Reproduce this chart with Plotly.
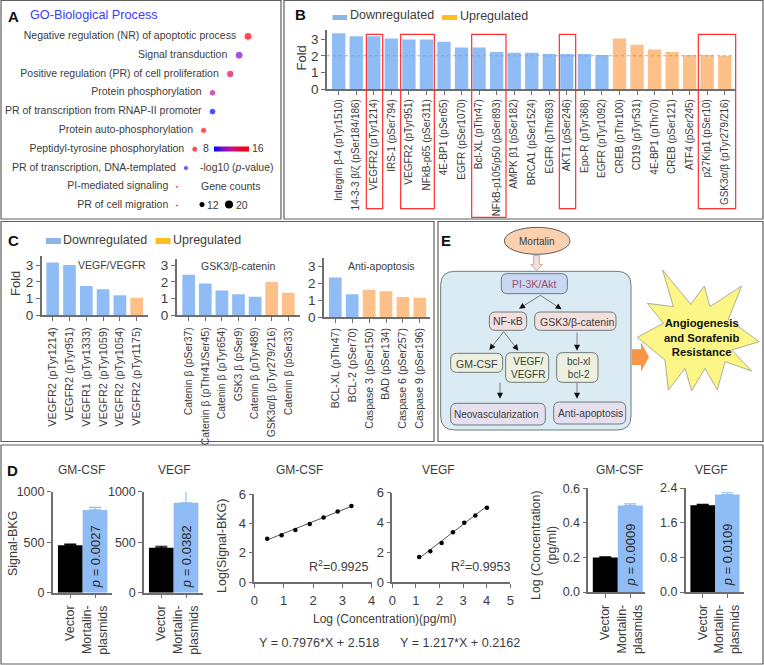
import math
import plotly.graph_objects as go

W, H = 764, 665
FONT = "Liberation Sans"
TXT = "#3c3c3c"
AXC = "#6e6e6e"
BLUE = "#8fbcf5"
ORANGE = "#fdc088"
LEG_BLUE = "#8cb4e6"
LEG_ORANGE = "#fdbd1e"

# ---------- data ----------
go_terms = ["Negative regulation (NR) of apoptotic process", "Signal transduction",
            "Positive regulation (PR) of cell proliferation", "Protein phosphorylation",
            "PR of transcription from RNAP-II promoter", "Protein auto-phosphorylation",
            "Peptidyl-tyrosine phosphorylation", "PR of transcription, DNA-templated",
            "PI-mediated signaling", "PR of cell migration"]
go_counts = [19, 18, 17, 15, 15, 14, 13, 12, 11, 11]
go_logp = [15.5, 10.0, 13.2, 12.0, 8.0, 16.0, 15.0, 9.0, 13.2, 12.0]
go_size = [8, 8, 7.5, 6.5, 6.5, 6, 6, 5, 3, 3]

b_labels = ["Integrin β-4 (pTyr1510)", "14-3-3 β/ζ (pSer184/186)", "VEGFR2 (pTyr1214)", "IRS-1 (pSer794)",
            "VEGFR2 (pTyr951)", "NFkB-p65 (pSer311)", "4E-BP1 (pSer65)", "EGFR (pSer1070)",
            "Bcl-XL (pThr47)", "NFkB-p105/p50 (pSer893)", "AMPK β1 (pSer182)", "BRCA1 (pSer1524)",
            "EGFR (pThr693)", "AKT1 (pSer246)", "Epo-R (pTyr368)", "EGFR (pTyr1092)",
            "CREB (pThr100)", "CD19 (pTyr531)", "4E-BP1 (pThr70)", "CREB (pSer121)",
            "ATF4 (pSer245)", "p27Kip1 (pSer10)", "GSK3α/β (pTyr279/216)"]
b_values = [3.35, 3.17, 3.17, 3.03, 2.97, 2.97, 2.83, 2.5, 2.5, 2.23, 2.18, 2.18,
            2.1, 2.1, 2.1, 2.05, 3.03, 2.65, 2.37, 2.23, 2.05, 2.05, 2.0]
b_up_from = 16

c1_labels = ["VEGFR2 (pTyr1214)", "VEGFR2 (pTyr951)", "VEGFR1 (pTyr1333)", "VEGFR2 (pTyr1059)",
             "VEGFR2 (pTyr1054)", "VEGFR2 (pTyr1175)"]
c1_values = [3.15, 3.0, 1.75, 1.55, 1.2, 1.05]
c1_up = [5]
c2_labels = ["Catenin β (pSer37)", "Catenin β (pThr41/Ser45)", "Catenin β (pTyr654)", "GSK3 β (pSer9)",
             "Catenin β (pTyr489)", "GSK3α/β (pTyr279/216)", "Catenin β (pSer33)"]
c2_values = [2.42, 1.9, 1.48, 1.25, 1.1, 2.0, 1.35]
c2_up = [5, 6]
c3_labels = ["BCL-XL (pThr47)", "BCL-2 (pSer70)", "Caspase 3 (pSer150)", "BAD (pSer134)",
             "Caspase 6 (pSer257)", "Caspase 9 (pSer196)"]
c3_values = [2.35, 1.35, 1.63, 1.53, 1.2, 1.15]
c3_up = [2, 3, 4, 5]

d_groups = ["Vector", "Mortalin-<br>plasmids"]
d1_values, d1_err = [470, 820], [10, 25]
d2_values, d2_err = [445, 890], [15, 135]
d5_values, d5_err = [0.2, 0.5], [0.004, 0.01]
d6_values, d6_err = [2.0, 2.25], [0.02, 0.04]

d3_x = [0.44, 0.93, 1.40, 1.89, 2.36, 2.84, 3.31]
d3_y = [2.95, 3.18, 3.55, 3.95, 4.39, 4.80, 5.18]
d3_fit_x, d3_fit_y = [0.44, 3.31], [2.87, 5.16]
d4_x = [1.14, 1.61, 2.09, 2.57, 3.05, 3.52, 4.01]
d4_y = [1.68, 2.06, 2.62, 3.35, 3.98, 4.47, 4.99]
d4_fit_x, d4_fit_y = [1.14, 4.01], [1.60, 5.10]

# ---------- pixel helpers ----------
def px(x): return x / W
def py(y): return 1 - y / H

fig = go.Figure()
layout = {}
annotations, shapes = [], []
axis_n = [0]

def text(x, y, s, size=11, color=TXT, angle=0, anchor="center", bold=False, family=FONT):
    if bold:
        s = f"<b>{s}</b>"
    annotations.append(dict(x=px(x), y=py(y), xref="paper", yref="paper", text=s, showarrow=False,
                            xanchor=anchor, yanchor="middle", textangle=angle,
                            font=dict(size=size, color=color, family=family), align="center",
                            borderpad=0, borderwidth=0))

def rect(x0, y0, x1, y1, fill="rgba(0,0,0,0)", line="#6e6e6e", lw=1):
    shapes.append(dict(type="rect", xref="paper", yref="paper", x0=px(x0), x1=px(x1), y0=py(y0), y1=py(y1),
                       fillcolor=fill, line=dict(color=line, width=lw), layer="above"))

def rrect(x0, y0, x1, y1, r, fill, line="#707a80", lw=1):
    p = (f"M{px(x0+r)},{py(y0)} L{px(x1-r)},{py(y0)} Q{px(x1)},{py(y0)} {px(x1)},{py(y0+r)} "
         f"L{px(x1)},{py(y1-r)} Q{px(x1)},{py(y1)} {px(x1-r)},{py(y1)} L{px(x0+r)},{py(y1)} "
         f"Q{px(x0)},{py(y1)} {px(x0)},{py(y1-r)} L{px(x0)},{py(y0+r)} Q{px(x0)},{py(y0)} {px(x0+r)},{py(y0)} Z")
    shapes.append(dict(type="path", xref="paper", yref="paper", path=p, fillcolor=fill,
                       line=dict(color=line, width=lw), layer="below"))

def poly(pts, fill, line=None, lw=1):
    p = "M" + " L".join(f"{px(a)},{py(b)}" for a, b in pts) + " Z"
    shapes.append(dict(type="path", xref="paper", yref="paper", path=p, fillcolor=fill,
                       line=dict(color=line or fill, width=lw if line else 0), layer="below"))

def seg(x0, y0, x1, y1, color="#808080", lw=1):
    shapes.append(dict(type="line", xref="paper", yref="paper", x0=px(x0), x1=px(x1), y0=py(y0), y1=py(y1),
                       line=dict(color=color, width=lw), layer="below"))

def axes(x0, x1, y0, y1, xr, yr, xkw=None, ykw=None):
    """x0,x1 left/right pixel; y0,y1 top/bottom pixel."""
    axis_n[0] += 1
    n = axis_n[0]
    base = dict(showgrid=False, zeroline=False, showline=True, linecolor=AXC, linewidth=1.5,
                ticks="outside", tickcolor=AXC, ticklen=4, tickwidth=1.2,
                tickfont=dict(family=FONT, size=13, color=TXT))
    xa = dict(base, domain=[px(x0), px(x1)], range=xr, anchor=f"y{n}")
    ya = dict(base, domain=[py(y1), py(y0)], range=yr, anchor=f"x{n}")
    xa.update(xkw or {})
    ya.update(ykw or {})
    layout[f"xaxis{n}"] = xa
    layout[f"yaxis{n}"] = ya
    return f"x{n}", f"y{n}"

def fold_chart(ax_x, right, top_px, zero_px, three_px, first_c, spacing, barw, labels, values, up,
               lab_size, standoff=0, tick_size=13.5):
    unit = (zero_px - three_px) / 3
    xr = [(ax_x - first_c) / spacing, (right - first_c) / spacing]
    yr = [0, (zero_px - top_px) / unit]
    xa, ya = axes(ax_x, right, top_px, zero_px, xr, yr,
                  xkw=dict(tickmode="array", tickvals=list(range(len(labels))), ticktext=labels,
                           tickangle=-90, ticklabelstandoff=standoff,
                           tickfont=dict(family=FONT, size=lab_size, color=TXT)),
                  ykw=dict(tickmode="array", tickvals=[0, 1, 2, 3], tickfont=dict(family=FONT, size=tick_size, color=TXT)))
    colors = [ORANGE if i in up else BLUE for i in range(len(values))]
    fig.add_trace(go.Bar(x=list(range(len(values))), y=values, xaxis=xa, yaxis=ya, marker=dict(color=colors, line=dict(width=0)),
                         width=barw / spacing, showlegend=False))
    return xa, ya

def two_bar(ax_x, right, zero_px, top_px, c0, c1, values, errs, ymax, ticks, ticktext, ptext, tick_size=12.5):
    spacing = c1 - c0
    xr = [(ax_x - c0) / spacing, (right - c0) / spacing]
    xa, ya = axes(ax_x, right, top_px, zero_px, xr, [0, ymax],
                  xkw=dict(tickmode="array", tickvals=[0, 1], ticktext=d_groups, tickangle=-90, ticklabelstandoff=2,
                           tickfont=dict(family=FONT, size=12.5, color=TXT)),
                  ykw=dict(tickmode="array", tickvals=ticks, ticktext=ticktext,
                           tickfont=dict(family=FONT, size=tick_size, color=TXT)))
    fig.add_trace(go.Bar(x=[0, 1], y=values, xaxis=xa, yaxis=ya, width=[1, 1],
                         marker=dict(color=["#000000", BLUE], line=dict(width=0)), showlegend=False))
    for i, col in enumerate(["#000000", BLUE]):
        fig.add_trace(go.Scatter(x=[i], y=[values[i]], xaxis=xa, yaxis=ya, mode="markers", showlegend=False,
                                 marker=dict(size=1, color=col),
                                 error_y=dict(type="data", array=[errs[i]], symmetric=False, visible=True,
                                              color=col, thickness=1.2, width=6)))
    text(c1, (zero_px + top_px) / 2 + 15, f"<i>p</i> = {ptext}", size=13, angle=-90, color="#2a2a2a")

# ---------- frames ----------
for box in [(1, 0.5, 281, 219), (284, 0.5, 763, 219), (1, 221.5, 434, 441.5), (438, 221.5, 763, 441.5), (1, 445, 763, 664)]:
    rect(*box, line="#5f5f5f", lw=1.2)

# ---------- Panel A ----------
A_SCALE = 8.875
a_x0, a_x1 = 3, 280
xa, ya = axes(a_x0, a_x1, 27, 215,
              [11 + (a_x0 - 177) / A_SCALE, 11 + (a_x1 - 177) / A_SCALE],
              [len(go_terms) - 0.5, -0.5],
              xkw=dict(visible=False), ykw=dict(visible=False))
fig.add_trace(go.Scatter(
    x=go_counts, y=list(range(len(go_terms))), xaxis=xa, yaxis=ya, mode="markers+text",
    text=[t + "  " for t in go_terms], textposition="middle left", cliponaxis=False,
    textfont=dict(family=FONT, size=10.5, color=TXT), showlegend=False,
    marker=dict(size=go_size, color=go_logp, cmin=8, cmax=16,
                colorscale=[[0, "#0000ff"], [0.25, "#7a10d0"], [0.5, "#c0108f"], [0.75, "#f00030"], [1, "#ff0000"]],
                showscale=True,
                colorbar=dict(orientation="h", x=px(231.5), xanchor="center", y=py(149), yanchor="middle",
                              len=35 / W, lenmode="fraction", thickness=5, thicknessmode="pixels",
                              showticklabels=False, ticks="", outlinewidth=0, borderwidth=0, xpad=0, ypad=0))))
text(8, 16, "A", size=15, color="#111", anchor="left", bold=True)
text(30, 15.5, "GO-Biological Process", size=12.7, color="#3a3aff", anchor="left")
text(209, 148, "8", size=10.5, anchor="right")
text(252, 148, "16", size=10.5, anchor="left")
text(237, 167, "-log10 (<i>p</i>-value)", size=10.5)
text(231, 186, "Gene counts", size=10.5)
text(213, 204.5, "12", size=10.5, anchor="center")
text(242, 204.5, "20", size=10.5, anchor="center")
shapes.append(dict(type="circle", xref="paper", yref="paper", x0=px(199.5), x1=px(204.5), y0=py(207), y1=py(202),
                   fillcolor="#000", line=dict(width=0)))
shapes.append(dict(type="circle", xref="paper", yref="paper", x0=px(225), x1=px(233), y0=py(208.5), y1=py(200.5),
                   fillcolor="#000", line=dict(width=0)))

# ---------- Panel B ----------
xa, ya = fold_chart(327, 735.7, 30, 89.3, 39, 338.7, 17.55, 13.3, b_labels, b_values, range(b_up_from, 23), 10)
shapes.append(dict(type="line", xref=xa, yref=ya, x0=-0.667, x1=22.6, y0=2, y1=2,
                   line=dict(color="#9a9a9a", width=0.8, dash="dot"), layer="above"))
text(295, 15, "B", size=15, color="#111", anchor="left", bold=True)
text(301, 58.5, "Fold", size=13, angle=-90)
rect(332.5, 15, 347, 20, fill=LEG_BLUE, line=LEG_BLUE, lw=0)
text(350, 15, "Downregulated", size=12.5, anchor="left")
rect(442, 15, 457, 20, fill=LEG_ORANGE, line=LEG_ORANGE, lw=0)
text(460, 16, "Upregulated", size=12.5, anchor="left")
for a, b, c in [(244, 293, 626), (347, 448, 626), (560, 663, 652), (823, 872, 626), (1240, 1352, 626)]:
    rect(285 + a / 3, 103 / 3, 285 + b / 3, c / 3, line="#ff3030", lw=1.2)

# ---------- Panel C ----------
Y = 220
fold_chart(41.7, 148, Y + 36, Y + 95.3, Y + 45, 52.7, 16.8, 12.7, c1_labels, c1_values, c1_up, 10.9, 2)
fold_chart(176.7, 300, Y + 39, Y + 95.3, Y + 45, 188.7, 16.6, 12.7, c2_labels, c2_values, c2_up, 10.4, 2)
fold_chart(324, 430, Y + 37.7, Y + 97, Y + 46.7, 335.3, 16.9, 12.7, c3_labels, c3_values, c3_up, 10.6, 1)
text(8, Y + 20.5, "C", size=15, color="#111", anchor="left", bold=True)
text(15.5, Y + 63.5, "Fold", size=13, angle=-90)
rect(46, Y + 18, 61, Y + 24, fill=LEG_BLUE, line=LEG_BLUE, lw=0)
text(63, Y + 20, "Downregulated", size=12.5, anchor="left")
rect(155.5, Y + 18, 170.5, Y + 24, fill=LEG_ORANGE, line=LEG_ORANGE, lw=0)
text(173, Y + 20, "Upregulated", size=12.5, anchor="left")
text(112, Y + 45, "VEGF/VEGFR", size=10.5)
text(238, Y + 46, "GSK3/β-catenin", size=10.5)
text(381, Y + 46, "Anti-apoptosis", size=10.5)

# ---------- Panel D ----------
two_bar(52.7, 111.7, 592.7, 491.7, 70.3, 95, d1_values, d1_err, 1000, [0, 500, 1000], ["0", "500", "1000"], "0.0027")
two_bar(144, 203, 592.7, 491.7, 161.3, 186, d2_values, d2_err, 1000, [0, 500, 1000], ["0", "500", "1000"], "0.0382")
xa, ya = axes(254.3, 371.7, 494, 582, [0, 4], [0, 6],
              xkw=dict(tickmode="array", tickvals=[0, 1, 2, 3, 4], ticklabelstandoff=2), ykw=dict(tickmode="array", tickvals=[0, 2, 4, 6]))
fig.add_trace(go.Scatter(x=d3_fit_x, y=d3_fit_y, xaxis=xa, yaxis=ya, mode="lines", line=dict(color="#555", width=1), showlegend=False))
fig.add_trace(go.Scatter(x=d3_x, y=d3_y, xaxis=xa, yaxis=ya, mode="markers", marker=dict(color="#000", size=4.5), showlegend=False))
xa, ya = axes(392.3, 510.3, 492.7, 582, [0, 5], [0, 6],
              xkw=dict(tickmode="array", tickvals=[0, 1, 2, 3, 4, 5], ticklabelstandoff=2), ykw=dict(tickmode="array", tickvals=[0, 2, 4, 6]))
fig.add_trace(go.Scatter(x=d4_fit_x, y=d4_fit_y, xaxis=xa, yaxis=ya, mode="lines", line=dict(color="#555", width=1), showlegend=False))
fig.add_trace(go.Scatter(x=d4_x, y=d4_y, xaxis=xa, yaxis=ya, mode="markers", marker=dict(color="#000", size=4.5), showlegend=False))
two_bar(588.3, 645, 592, 488.3, 605.3, 630.3, d5_values, d5_err, 0.6, [0, 0.2, 0.4, 0.6], ["0.0", "0.2", "0.4", "0.6"], "0.0009")
two_bar(685.7, 744, 592, 488, 702.7, 727.3, d6_values, d6_err, 2.4, [0, 0.8, 1.6, 2.4], ["0.0", "0.8", "1.6", "2.4"], "0.0109")

text(7, 470, "D", size=15, color="#111", anchor="left", bold=True)
text(81, 469.5, "GM-CSF", size=12)
text(174, 469.5, "VEGF", size=12)
text(299.5, 470, "GM-CSF", size=12)
text(438, 470, "VEGF", size=12)
text(619, 470, "GM-CSF", size=12)
text(711, 469.5, "VEGF", size=12)
text(13, 544, "Signal-BKG", size=12.5, angle=-90)
text(222, 546, "Log(Signal-BKG)", size=12.5, angle=-90)
text(338, 566, "R<sup>2</sup>=0.9925", size=12.5)
text(480, 566, "R<sup>2</sup>=0.9953", size=12.5)
text(384, 619, "Log (Concentration)(pg/ml)", size=12)
text(319, 643, "Y = 0.7976*X + 2.518", size=12.6)
text(460, 643, "Y = 1.217*X + 0.2162", size=12.6)
text(544, 545, "Log (Concentration)<br>(pg/ml)", size=12.4, angle=-90)

# ---------- Panel E ----------
def ex(v): return 435 + v / 3
def ey(v): return 220 + v / 3
def ebox(a, b, c, d, fill, r=6):
    rrect(ex(a), ey(b), ex(c), ey(d), r, fill, line="#6f7a78", lw=1)

text(ex(17), ey(62), "E", size=15, color="#111", anchor="left", bold=True)
shapes.append(dict(type="circle", xref="paper", yref="paper", x0=px(ex(208)), x1=px(ex(405)), y0=py(ey(103)), y1=py(ey(22)),
                   fillcolor="#fbd0ae", line=dict(color="#5d5d5d", width=1), layer="below"))
text(ex(306), ey(63), "Mortalin", size=10)
ebox(17, 154, 588, 630, "#daebf3", r=14)
poly([(ex(296), ey(106)), (ex(313), ey(106)), (ex(313), ey(133)), (ex(323), ey(133)), (ex(305), ey(152)),
      (ex(287), ey(133)), (ex(296), ey(133))], "#f4dfdb", line="#b59a96", lw=0.8)
ebox(199, 161, 397, 221, "#c9d8f2")
text(ex(296), ey(192), "PI-3K/Akt", size=10.5, color="#a0506e")
ebox(163, 276, 275, 331, "#f3dfdd")
text(ex(219), ey(304), "NF-κB", size=10.5)
ebox(299, 276, 543, 331, "#f3dfdd")
text(ex(425), ey(305), "GSK3/β-catenin", size=10.5)
ebox(47, 400, 203, 457, "#ebf1de")
text(ex(125), ey(432), "GM-CSF", size=10.5)
ebox(212, 398, 341, 487, "#ebf1de")
text(ex(280), ey(444), "VEGF/<br>VEGFR", size=10)
ebox(365, 398, 489, 487, "#ebf1de")
text(ex(430), ey(445), "bcl-xl<br>bcl-2", size=10)
ebox(47, 550, 331, 615, "#e6dfee")
text(ex(186), ey(583), "Neovascularization", size=10)
ebox(356, 546, 572, 612, "#e6dfee")
text(ex(466), ey(581), "Anti-apoptosis", size=10.3)

def arrow(a, b, c, d):
    x0, y0, x1, y1 = ex(a), ey(b), ex(c), ey(d)
    ang = math.atan2(y1 - y0, x1 - x0)
    L, Wd = 6, 3
    bx, by = x1 - L * math.cos(ang), y1 - L * math.sin(ang)
    nx, ny = -math.sin(ang) * Wd, math.cos(ang) * Wd
    seg(x0, y0, bx, by, color="#7a7a7a", lw=1)
    poly([(x1, y1), (bx + nx, by + ny), (bx - nx, by - ny)], "#111111")

arrow(316, 226, 252, 266)
arrow(316, 226, 380, 268)
arrow(206, 335, 163, 390)
arrow(206, 335, 250, 392)
arrow(426, 338, 426, 392)
arrow(195, 488, 195, 536)
arrow(426, 488, 426, 536)

poly([(ex(591), ey(388)), (ex(618), ey(388)), (ex(618), ey(367)), (ex(642), ey(411)), (ex(618), ey(455)),
      (ex(618), ey(435)), (ex(591), ey(435))], "#f79646")

star = [(98, 30), (130, 140), (52, 130), (100, 190), (22, 232), (105, 300), (115, 390), (165, 325), (185, 392),
        (225, 325), (262, 390), (285, 305), (365, 333), (305, 270), (388, 245), (295, 178), (335, 78), (240, 140),
        (223, 78), (182, 133)]
poly([(630 + a / 3, 260 + b / 3) for a, b in star], "#fbf685", line="#9a9a8a", lw=0.8)
text(701, 337, "Angiogenesis<br>and Sorafenib<br>Resistance", size=11.3, color="#111", bold=True)

# ---------- finish ----------
fig.update_layout(width=W, height=H, autosize=False, margin=dict(l=0, r=0, t=0, b=0, pad=0, autoexpand=False),
                  paper_bgcolor="white", plot_bgcolor="rgba(0,0,0,0)", barmode="overlay",
                  font=dict(family=FONT, color=TXT), showlegend=False,
                  annotations=annotations, shapes=shapes, **layout)
fig.write_html("out.html", post_script="document.body.style.margin='0';", config={"displayModeBar": False})
